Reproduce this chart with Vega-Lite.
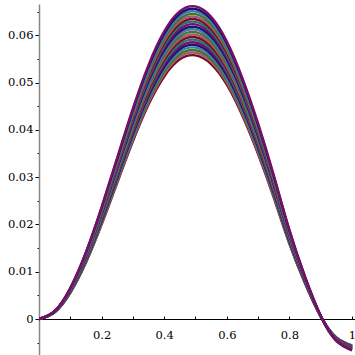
{
  "$schema": "https://vega.github.io/schema/vega-lite/v6.json",
  "width": 316,
  "height": 351,
  "autosize": {"type": "none"},
  "padding": {"left": 39, "top": 4, "right": 0, "bottom": 0},
  "background": "white",
  "config": {
    "view": {"stroke": null},
    "axis": {"grid": false, "title": null, "labelFont": "DejaVu Serif", "labelFontSize": 11.5, "labelColor": "#000000", "tickColor": "#000000"}
  },
  "data": {"values": [
    {"x":0,"c00":0,"c01":0,"c02":0,"c03":0,"c04":0,"c05":0,"c06":0,"c07":0,"c08":0,"c09":0,"c10":0,"c11":0,"c12":0,"c13":0,"c14":0,"c15":0,"c16":0,"c17":0,"c18":0,"c19":0},
    {"x":0.05,"c00":0.00142,"c01":0.00144,"c02":0.00145,"c03":0.00147,"c04":0.00148,"c05":0.00149,"c06":0.00151,"c07":0.00152,"c08":0.00153,"c09":0.00155,"c10":0.00156,"c11":0.00158,"c12":0.00159,"c13":0.00160,"c14":0.00162,"c15":0.00163,"c16":0.00164,"c17":0.00166,"c18":0.00167,"c19":0.00169},
    {"x":0.1,"c00":0.00554,"c01":0.00560,"c02":0.00565,"c03":0.00570,"c04":0.00576,"c05":0.00581,"c06":0.00587,"c07":0.00592,"c08":0.00597,"c09":0.00603,"c10":0.00608,"c11":0.00614,"c12":0.00619,"c13":0.00624,"c14":0.00630,"c15":0.00635,"c16":0.00641,"c17":0.00646,"c18":0.00651,"c19":0.00657},
    {"x":0.15,"c00":0.01194,"c01":0.01205,"c02":0.01217,"c03":0.01229,"c04":0.01240,"c05":0.01252,"c06":0.01264,"c07":0.01275,"c08":0.01287,"c09":0.01298,"c10":0.01310,"c11":0.01322,"c12":0.01333,"c13":0.01345,"c14":0.01357,"c15":0.01368,"c16":0.01380,"c17":0.01392,"c18":0.01403,"c19":0.01415},
    {"x":0.2,"c00":0.01996,"c01":0.02015,"c02":0.02035,"c03":0.02054,"c04":0.02074,"c05":0.02093,"c06":0.02113,"c07":0.02132,"c08":0.02152,"c09":0.02171,"c10":0.02191,"c11":0.02210,"c12":0.02230,"c13":0.02249,"c14":0.02269,"c15":0.02288,"c16":0.02308,"c17":0.02327,"c18":0.02347,"c19":0.02366},
    {"x":0.25,"c00":0.02879,"c01":0.02907,"c02":0.02936,"c03":0.02964,"c04":0.02992,"c05":0.03020,"c06":0.03048,"c07":0.03076,"c08":0.03104,"c09":0.03132,"c10":0.03161,"c11":0.03189,"c12":0.03217,"c13":0.03245,"c14":0.03273,"c15":0.03301,"c16":0.03329,"c17":0.03357,"c18":0.03386,"c19":0.03414},
    {"x":0.3,"c00":0.03755,"c01":0.03792,"c02":0.03829,"c03":0.03865,"c04":0.03902,"c05":0.03939,"c06":0.03975,"c07":0.04012,"c08":0.04049,"c09":0.04085,"c10":0.04122,"c11":0.04159,"c12":0.04195,"c13":0.04232,"c14":0.04269,"c15":0.04306,"c16":0.04342,"c17":0.04379,"c18":0.04416,"c19":0.04452},
    {"x":0.35,"c00":0.04533,"c01":0.04577,"c02":0.04621,"c03":0.04665,"c04":0.04710,"c05":0.04754,"c06":0.04798,"c07":0.04843,"c08":0.04887,"c09":0.04931,"c10":0.04975,"c11":0.05020,"c12":0.05064,"c13":0.05108,"c14":0.05152,"c15":0.05197,"c16":0.05241,"c17":0.05285,"c18":0.05330,"c19":0.05374},
    {"x":0.4,"c00":0.05128,"c01":0.05178,"c02":0.05228,"c03":0.05278,"c04":0.05328,"c05":0.05378,"c06":0.05429,"c07":0.05479,"c08":0.05529,"c09":0.05579,"c10":0.05629,"c11":0.05679,"c12":0.05729,"c13":0.05779,"c14":0.05829,"c15":0.05879,"c16":0.05929,"c17":0.05979,"c18":0.06030,"c19":0.06080},
    {"x":0.45,"c00":0.05490,"c01":0.05543,"c02":0.05597,"c03":0.05650,"c04":0.05704,"c05":0.05758,"c06":0.05811,"c07":0.05865,"c08":0.05919,"c09":0.05972,"c10":0.06026,"c11":0.06079,"c12":0.06133,"c13":0.06187,"c14":0.06240,"c15":0.06294,"c16":0.06347,"c17":0.06401,"c18":0.06455,"c19":0.06508},
    {"x":0.5,"c00":0.05574,"c01":0.05629,"c02":0.05683,"c03":0.05738,"c04":0.05792,"c05":0.05847,"c06":0.05901,"c07":0.05956,"c08":0.06010,"c09":0.06064,"c10":0.06119,"c11":0.06173,"c12":0.06228,"c13":0.06282,"c14":0.06337,"c15":0.06391,"c16":0.06446,"c17":0.06500,"c18":0.06554,"c19":0.06609},
    {"x":0.55,"c00":0.05390,"c01":0.05443,"c02":0.05496,"c03":0.05548,"c04":0.05601,"c05":0.05654,"c06":0.05706,"c07":0.05759,"c08":0.05812,"c09":0.05864,"c10":0.05917,"c11":0.05969,"c12":0.06022,"c13":0.06075,"c14":0.06127,"c15":0.06180,"c16":0.06233,"c17":0.06285,"c18":0.06338,"c19":0.06391},
    {"x":0.6,"c00":0.04955,"c01":0.05003,"c02":0.05052,"c03":0.05100,"c04":0.05149,"c05":0.05197,"c06":0.05245,"c07":0.05294,"c08":0.05342,"c09":0.05391,"c10":0.05439,"c11":0.05487,"c12":0.05536,"c13":0.05584,"c14":0.05633,"c15":0.05681,"c16":0.05729,"c17":0.05778,"c18":0.05826,"c19":0.05874},
    {"x":0.65,"c00":0.04297,"c01":0.04339,"c02":0.04381,"c03":0.04422,"c04":0.04464,"c05":0.04506,"c06":0.04548,"c07":0.04590,"c08":0.04632,"c09":0.04674,"c10":0.04716,"c11":0.04758,"c12":0.04800,"c13":0.04842,"c14":0.04884,"c15":0.04926,"c16":0.04968,"c17":0.05010,"c18":0.05052,"c19":0.05094},
    {"x":0.7,"c00":0.03488,"c01":0.03522,"c02":0.03556,"c03":0.03590,"c04":0.03624,"c05":0.03658,"c06":0.03692,"c07":0.03726,"c08":0.03760,"c09":0.03794,"c10":0.03828,"c11":0.03862,"c12":0.03896,"c13":0.03930,"c14":0.03964,"c15":0.03998,"c16":0.04032,"c17":0.04067,"c18":0.04101,"c19":0.04135},
    {"x":0.75,"c00":0.02567,"c01":0.02592,"c02":0.02617,"c03":0.02642,"c04":0.02667,"c05":0.02692,"c06":0.02717,"c07":0.02742,"c08":0.02767,"c09":0.02792,"c10":0.02818,"c11":0.02843,"c12":0.02868,"c13":0.02893,"c14":0.02918,"c15":0.02943,"c16":0.02968,"c17":0.02993,"c18":0.03018,"c19":0.03043},
    {"x":0.8,"c00":0.01590,"c01":0.01606,"c02":0.01621,"c03":0.01637,"c04":0.01652,"c05":0.01668,"c06":0.01683,"c07":0.01699,"c08":0.01715,"c09":0.01730,"c10":0.01746,"c11":0.01761,"c12":0.01777,"c13":0.01792,"c14":0.01808,"c15":0.01823,"c16":0.01839,"c17":0.01854,"c18":0.01870,"c19":0.01885},
    {"x":0.85,"c00":0.00753,"c01":0.00761,"c02":0.00768,"c03":0.00775,"c04":0.00783,"c05":0.00790,"c06":0.00797,"c07":0.00805,"c08":0.00812,"c09":0.00820,"c10":0.00827,"c11":0.00834,"c12":0.00842,"c13":0.00849,"c14":0.00856,"c15":0.00864,"c16":0.00871,"c17":0.00878,"c18":0.00886,"c19":0.00893},
    {"x":0.9,"c00":0.00056,"c01":0.00056,"c02":0.00057,"c03":0.00057,"c04":0.00058,"c05":0.00058,"c06":0.00059,"c07":0.00060,"c08":0.00060,"c09":0.00061,"c10":0.00061,"c11":0.00062,"c12":0.00062,"c13":0.00063,"c14":0.00063,"c15":0.00064,"c16":0.00064,"c17":0.00065,"c18":0.00066,"c19":0.00066},
    {"x":0.95,"c00":-0.00391,"c01":-0.00394,"c02":-0.00398,"c03":-0.00402,"c04":-0.00406,"c05":-0.00410,"c06":-0.00413,"c07":-0.00417,"c08":-0.00421,"c09":-0.00425,"c10":-0.00429,"c11":-0.00433,"c12":-0.00436,"c13":-0.00440,"c14":-0.00444,"c15":-0.00448,"c16":-0.00452,"c17":-0.00456,"c18":-0.00459,"c19":-0.00463},
    {"x":1.0,"c00":-0.00558,"c01":-0.00563,"c02":-0.00569,"c03":-0.00574,"c04":-0.00580,"c05":-0.00585,"c06":-0.00591,"c07":-0.00596,"c08":-0.00602,"c09":-0.00607,"c10":-0.00613,"c11":-0.00618,"c12":-0.00623,"c13":-0.00629,"c14":-0.00634,"c15":-0.00640,"c16":-0.00645,"c17":-0.00651,"c18":-0.00656,"c19":-0.00662}
  ]},
  "transform": [
    {"fold": ["c00","c01","c02","c03","c04","c05","c06","c07","c08","c09","c10","c11","c12","c13","c14","c15","c16","c17","c18","c19"], "as": ["curve", "y"]}
  ],
  "mark": {"type": "line", "interpolate": "natural", "strokeWidth": 2.4, "clip": true},
  "encoding": {
    "x": {
      "field": "x", "type": "quantitative",
      "scale": {"domain": [0, 1.0096], "nice": false, "zero": false},
      "axis": {
        "orient": "bottom", "offset": -36,
        "values": [0.1,0.2,0.3,0.4,0.5,0.6,0.7,0.8,0.9,1],
        "format": "~g",
        "labelExpr": "round(datum.value*10) % 2 == 0 ? datum.label : ''",
        "domainColor": "#000000", "domainWidth": 1,
        "tickSize": -3, "tickWidth": 1, "labelPadding": 13
      }
    },
    "y": {
      "field": "y", "type": "quantitative",
      "scale": {"domain": [-0.00761, 0.0666], "nice": false, "zero": false},
      "axis": {
        "orient": "left",
        "values": [-0.005,0,0.005,0.01,0.015,0.02,0.025,0.03,0.035,0.04,0.045,0.05,0.055,0.06,0.065],
        "format": "~g",
        "labelExpr": "round(datum.value*200) % 2 == 0 && datum.value >= 0 ? datum.label : ''",
        "domainColor": "#888888", "domainWidth": 1.5,
        "tickSize": {"condition": {"test": "round(datum.value*200) % 2 == 0", "value": 4}, "value": 2},
        "tickWidth": 1, "labelPadding": 2
      }
    },
    "color": {
      "field": "curve", "type": "nominal", "legend": null,
      "scale": {
        "domain": ["c00","c01","c02","c03","c04","c05","c06","c07","c08","c09","c10","c11","c12","c13","c14","c15","c16","c17","c18","c19"],
        "range": ["#7b0b1e","#a3587c","#3f7a1e","#4b7aa8","#16167a","#7a0d64","#1a7878","#7b0b1e","#a3587c","#3f7a1e","#4b7aa8","#16167a","#7a0d64","#1a7878","#7b0b1e","#a3587c","#3f7a1e","#4b7aa8","#16167a","#7a0d64"]
      }
    }
  }
}
